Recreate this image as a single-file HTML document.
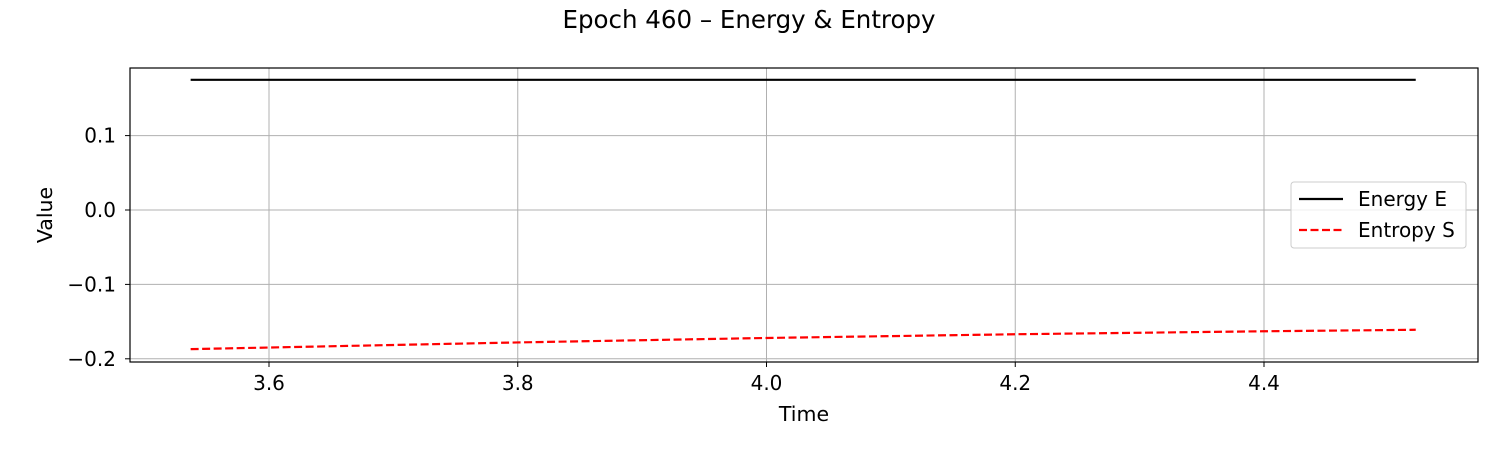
<!DOCTYPE html>
<html><head><meta charset="utf-8"><style>
body{margin:0;background:#fff;}
svg text{font-family:"DejaVu Sans","Liberation Sans",sans-serif;fill:#000;}
</style></head><body>
<svg id="chart" width="1500" height="450" xmlns="http://www.w3.org/2000/svg">
<text x="749" y="28" font-size="24.5" text-anchor="middle">Epoch 460 – Energy &amp; Entropy</text>
<g id="grid"></g>
<g id="axes"></g>
<g id="series"></g>
<rect x="130" y="68" width="1348" height="294" fill="none" stroke="#000" stroke-width="1.2"/>
<text x="804" y="421" font-size="20.5" text-anchor="middle">Time</text>
<text transform="translate(52,215) rotate(-90)" font-size="20.5" text-anchor="middle">Value</text>
<g>
<rect x="1291" y="182" width="175" height="66" rx="3" fill="#fff" fill-opacity="0.8" stroke="#ccc"/>
<line x1="1299" y1="199" x2="1343" y2="199" stroke="#000" stroke-width="2.2"/>
<text x="1358" y="206" font-size="20">Energy E</text>
<line x1="1299" y1="230" x2="1343" y2="230" stroke="red" stroke-width="2.2" stroke-dasharray="8,3.5"/>
<text x="1358" y="237" font-size="20">Entropy S</text>
</g>
</svg>
<script>
const times=[3.537,3.8,4.0,4.2,4.4,4.522];
const energy=[0.175,0.175,0.175,0.175,0.175,0.175];
const entropy=[-0.187,-0.178,-0.172,-0.167,-0.163,-0.161];
const xTicks=[3.6,3.8,4.0,4.2,4.4];
const yTicks=[0.1,0.0,-0.1,-0.2];
const yTickLabels=["0.1","0.0","\u22120.1","\u22120.2"];
const NS="http://www.w3.org/2000/svg";
const X=v=>269+(v-3.6)/0.2*248.75;
const Y=v=>210-v/0.1*74.4;
function mk(t,a,p){const e=document.createElementNS(NS,t);for(const k in a)e.setAttribute(k,a[k]);p.appendChild(e);return e;}
const grid=document.getElementById('grid'),axes=document.getElementById('axes'),ser=document.getElementById('series');
xTicks.forEach(v=>{
 const g=mk('line',{x1:X(v),x2:X(v),y1:68,y2:362,stroke:'#b0b0b0','stroke-width':1},grid);
 
 
 const t=mk('line',{x1:X(v),x2:X(v),y1:362,y2:367,stroke:'#000'},axes);
 
 
 const l=mk('text',{x:X(v),y:390,'font-size':20,'text-anchor':'middle'},axes);
 l.textContent=v.toFixed(1);
 
 
});
yTicks.forEach((v,i)=>{
 const g=mk('line',{x1:130,x2:1478,y1:Y(v),y2:Y(v),stroke:'#b0b0b0','stroke-width':1},grid);
 
 
 const t=mk('line',{x1:125,x2:130,y1:Y(v),y2:Y(v),stroke:'#000'},axes);
 
 
 const l=mk('text',{x:116,y:Y(v)+7,'font-size':20,'text-anchor':'end'},axes);
 l.textContent=yTickLabels[i];
 
 
});
const pts=a=>a.map((v,i)=>X(times[i])+','+Y(v)).join(' ');
const e=mk('polyline',{points:pts(energy),fill:'none',stroke:'#000','stroke-width':2.2},ser);


const s=mk('polyline',{points:pts(entropy),fill:'none',stroke:'red','stroke-width':2.2,'stroke-dasharray':'8,3.5'},ser);


</script>
</body></html>
